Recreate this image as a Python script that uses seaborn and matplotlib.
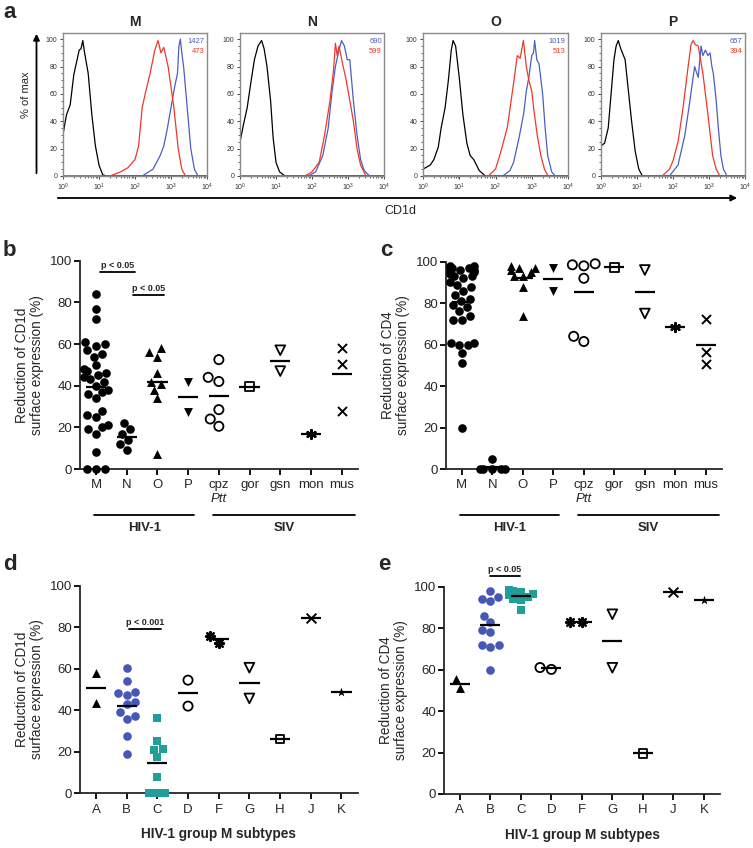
import numpy as np
import pandas as pd
import seaborn as sns
import matplotlib.pyplot as plt
from matplotlib.patches import FancyArrowPatch
from matplotlib.ticker import LogLocator, MultipleLocator, NullFormatter
from matplotlib.transforms import blended_transform_factory

# ---- panel a: CD1d histograms (x given as log10 fluorescence, y = % of max)
hist_titles = ['M', 'N', 'O', 'P']
mfi_blue = ['1427', '690', '1019', '657']
mfi_red = ['473', '599', '513', '394']

m_black_x = [0, 0.05, 0.1, 0.2, 0.3, 0.35, 0.45, 0.5, 0.55, 0.6, 0.7, 0.8, 0.9, 1.0, 1.1, 1.2, 4]
m_black_y = [30, 38, 45, 52, 74, 80, 92, 93, 99, 90, 75, 45, 22, 8, 1, 0, 0]
m_red_x = [0, 1.3, 1.6, 1.8, 2.0, 2.1, 2.2, 2.3, 2.42, 2.55, 2.64, 2.72, 2.8, 2.92, 3.0, 3.08, 3.2, 3.3, 3.4, 4]
m_red_y = [0, 0, 3, 6, 12, 22, 50, 62, 75, 92, 99, 90, 94, 80, 65, 50, 20, 5, 0, 0]
m_blue_x = [0, 2.2, 2.5, 2.7, 2.8, 2.9, 3.0, 3.1, 3.18, 3.22, 3.26, 3.3, 3.35, 3.45, 3.55, 3.65, 3.75, 4]
m_blue_y = [0, 0, 5, 15, 22, 35, 50, 65, 75, 95, 100, 90, 80, 50, 20, 5, 0, 0]

n_black_x = [0, 0.1, 0.2, 0.3, 0.4, 0.5, 0.6, 0.67, 0.75, 0.85, 0.92, 1.0, 1.1, 1.25, 4]
n_black_y = [25, 38, 50, 68, 85, 95, 99, 93, 80, 55, 28, 10, 3, 0, 0]
n_red_x = [0, 1.8, 2.0, 2.2, 2.35, 2.5, 2.6, 2.65, 2.7, 2.75, 2.85, 2.95, 3.05, 3.15, 3.25, 3.35, 3.5, 4]
n_red_y = [0, 0, 3, 10, 30, 55, 78, 97, 88, 95, 82, 70, 55, 40, 20, 8, 0, 0]
n_blue_x = [0, 1.9, 2.1, 2.3, 2.45, 2.55, 2.65, 2.75, 2.82, 2.9, 2.98, 3.05, 3.15, 3.25, 3.35, 3.45, 3.6, 4]
n_blue_y = [0, 0, 3, 15, 35, 60, 80, 92, 99, 95, 85, 85, 55, 30, 12, 4, 0, 0]

o_black_x = [0, 0.2, 0.3, 0.42, 0.5, 0.61, 0.7, 0.78, 0.83, 0.9, 1.0, 1.1, 1.21, 1.3, 1.4, 1.55, 1.72, 4]
o_black_y = [5, 8, 12, 21, 35, 50, 70, 92, 99, 95, 72, 45, 24, 15, 12, 4, 0, 0]
o_red_x = [0, 1.8, 2.0, 2.14, 2.33, 2.5, 2.6, 2.68, 2.77, 2.85, 2.92, 3.0, 3.06, 3.15, 3.25, 3.35, 3.45, 4]
o_red_y = [0, 0, 5, 17, 36, 68, 88, 86, 99, 80, 70, 62, 48, 30, 15, 5, 0, 0]
o_blue_x = [0, 2.2, 2.4, 2.5, 2.65, 2.78, 2.85, 2.92, 3.0, 3.05, 3.08, 3.14, 3.2, 3.3, 3.37, 3.44, 3.55, 3.65, 4]
o_blue_y = [0, 0, 4, 10, 28, 46, 62, 72, 88, 90, 99, 85, 82, 60, 35, 15, 3, 0, 0]

p_black_x = [0, 0.1, 0.2, 0.28, 0.36, 0.42, 0.48, 0.55, 0.67, 0.75, 0.85, 0.95, 1.05, 1.15, 4]
p_black_y = [22, 24, 35, 60, 85, 95, 99, 93, 85, 65, 40, 18, 5, 0, 0]
p_red_x = [0, 1.7, 1.9, 2.0, 2.14, 2.28, 2.42, 2.5, 2.56, 2.62, 2.7, 2.83, 2.97, 3.1, 3.2, 3.3, 4]
p_red_y = [0, 0, 5, 11, 25, 50, 80, 96, 99, 96, 95, 75, 45, 15, 5, 0, 0]
p_blue_x = [0, 1.9, 2.14, 2.33, 2.47, 2.6, 2.7, 2.78, 2.83, 2.9, 2.97, 3.03, 3.08, 3.12, 3.2, 3.26, 3.33, 3.4, 3.5, 4]
p_blue_y = [0, 0, 8, 30, 55, 80, 72, 95, 88, 92, 88, 90, 80, 75, 55, 35, 15, 5, 0, 0]

# ---- panels b/c: HIV-1 groups and SIVs
virus_groups = ['M', 'N', 'O', 'P', 'cpz', 'gor', 'gsn', 'mon', 'mus']
cd1d_M = [84, 77, 72, 61, 60, 59, 57, 55, 54, 50, 48, 47, 46, 45, 44, 43, 42, 40, 38, 37, 36, 34,
          28, 26, 25, 21, 20, 19, 17, 8, 0, 0, 0]
cd1d_N = [22, 19, 17, 14, 12, 9]
cd1d_O = [58, 56, 54, 46, 42, 41, 38, 34, 7]
cd1d_P = [42, 27.5]
cd1d_cpz = [52.5, 44, 42, 28.5, 24, 20.5]
cd1d_gor = [39.5]
cd1d_gsn = [57, 47]
cd1d_mon = [17]
cd1d_mus = [58, 50.5, 28]

cd4_M = [98, 98, 97, 97, 97, 96, 96, 95, 95, 94, 93, 93, 92, 90, 89, 88, 86, 84, 82, 81, 79, 78,
         76, 74, 72, 72, 61, 61, 60, 60, 56, 51, 20]
cd4_N = [5, 0, 0, 0, 0, 0]
cd4_O = [98, 97, 97, 96, 95, 93, 93, 88, 74]
cd4_P = [97, 86]
cd4_cpz = [99, 98.5, 98, 92, 64, 61.5]
cd4_gor = [97.3]
cd4_gsn = [96, 75]
cd4_mon = [68.3]
cd4_mus = [72.4, 56.6, 50.5]

# ---- panels d/e: HIV-1 group M subtypes
subtypes = ['A', 'B', 'C', 'D', 'F', 'G', 'H', 'J', 'K']
sub_cd1d_A = [58, 43.5]
sub_cd1d_B = [60.5, 54, 49, 48.5, 47.5, 44, 43, 39, 37, 36, 27.5, 19]
sub_cd1d_C = [36.5, 25, 21.5, 21, 17.5, 8, 0, 0, 0]
sub_cd1d_D = [54.5, 42]
sub_cd1d_F = [76, 72.5]
sub_cd1d_G = [60.5, 45.7]
sub_cd1d_H = [26.2]
sub_cd1d_J = [84.3]
sub_cd1d_K = [48.8]

sub_cd4_A = [55.3, 51.3]
sub_cd4_B = [98, 95, 94, 93, 86, 83, 79, 78, 72, 72, 71, 60]
sub_cd4_C = [98.5, 98, 97.5, 96.5, 96, 95, 94, 93.5, 89]
sub_cd4_D = [61, 60.1]
sub_cd4_F = [82.8, 82.8]
sub_cd4_G = [86.7, 60.9]
sub_cd4_H = [19.6]
sub_cd4_J = [97.6]
sub_cd4_K = [93.6]

RED = '#f0372c'
BLUE_H = '#4c5ec2'
BLUE = '#4658b6'
TEAL = '#1f9e9a'

# marker, face colour ('none' = open), size, line width
virus_marks = {'M': ('o', 'black', 6.2, 0), 'N': ('o', 'black', 6.2, 0),
               'O': ('^', 'black', 6.4, 0), 'P': ('v', 'black', 6.4, 0),
               'cpz': ('o', 'none', 6.6, 1.3), 'gor': ('s', 'none', 6.2, 1.3),
               'gsn': ('v', 'none', 7.0, 1.3), 'mon': ((6, 2, 0), 'black', 6.5, 1.6),
               'mus': ('x', 'black', 6.5, 1.4)}
subtype_marks = {'A': ('^', 'black', 6.4, 0), 'B': ('o', BLUE, 6.2, 0),
                 'C': ('s', TEAL, 5.6, 0), 'D': ('o', 'none', 6.6, 1.3),
                 'F': ((8, 2, 0), 'black', 6.5, 1.6), 'G': ('v', 'none', 7.0, 1.3),
                 'H': ('s', 'none', 6.2, 1.3), 'J': ('x', 'black', 7.0, 1.4),
                 'K': ('*', 'black', 7.0, 0)}

sns.set_style('ticks')
plt.rcParams['font.family'] = ['Liberation Sans', 'DejaVu Sans']
plt.rcParams['mathtext.fontset'] = 'custom'
plt.rcParams['mathtext.rm'] = 'Liberation Sans'

W, H = 753, 848
fig = plt.figure(figsize=(W / 100, H / 100), dpi=100)


def box(x0, y0, x1, y1):
    return [x0 / W, 1 - y1 / H, (x1 - x0) / W, (y1 - y0) / H]


def long_table(groups, series):
    rows = [(g, v) for g, vals in zip(groups, series) for v in vals]
    return pd.DataFrame(rows, columns=['group', 'value'])


# ---------------- panel a
hist_boxes = [box(63, 33, 207, 176), box(240, 33, 384, 176),
              box(423, 33, 568, 176), box(601, 33, 745, 176)]
hist_curves = [
    [(m_black_x, m_black_y, 'black'), (m_blue_x, m_blue_y, BLUE_H), (m_red_x, m_red_y, RED)],
    [(n_black_x, n_black_y, 'black'), (n_blue_x, n_blue_y, BLUE_H), (n_red_x, n_red_y, RED)],
    [(o_black_x, o_black_y, 'black'), (o_blue_x, o_blue_y, BLUE_H), (o_red_x, o_red_y, RED)],
    [(p_black_x, p_black_y, 'black'), (p_blue_x, p_blue_y, BLUE_H), (p_red_x, p_red_y, RED)],
]
for k, title in enumerate(hist_titles):
    ax = fig.add_axes(hist_boxes[k])
    for cx, cy, col in hist_curves[k]:
        sns.lineplot(x=10 ** np.array(cx, dtype=float), y=cy, ax=ax, color=col, lw=0.9,
                     estimator=None, sort=False)
    ax.set_xscale('log')
    ax.set_xlim(1, 1e4)
    ax.set_ylim(0, 104.5)
    ax.set_xticks([1, 10, 100, 1000, 10000])
    ax.set_xticklabels([r'$10^{0}$', r'$10^{1}$', r'$10^{2}$', r'$10^{3}$', r'$10^{4}$'])
    ax.xaxis.set_minor_locator(LogLocator(base=10, subs=np.arange(2, 10)))
    ax.xaxis.set_minor_formatter(NullFormatter())
    ax.set_yticks(range(0, 101, 20))
    ax.yaxis.set_minor_locator(MultipleLocator(5))
    ax.tick_params(labelsize=5, length=2.5, width=0.6, pad=1.5, labelcolor='#333333')
    ax.tick_params(which='minor', length=1.3, width=0.5)
    for s in ax.spines.values():
        s.set_color('#8a8a8a')
        s.set_linewidth(1.0)
    ax.set_xlabel('')
    ax.set_ylabel('')
    ax.set_title(title, fontweight='bold', fontsize=10, pad=5)
    ax.text(0.985, 0.965, mfi_blue[k], transform=ax.transAxes, ha='right', va='top',
            color=BLUE_H, fontsize=5.5)
    ax.text(0.985, 0.895, mfi_red[k], transform=ax.transAxes, ha='right', va='top',
            color=RED, fontsize=5.5)

fig.add_artist(FancyArrowPatch((36.5 / W, 1 - 176 / H), (36.5 / W, 1 - 31 / H),
                               transform=fig.transFigure, arrowstyle='-|>', mutation_scale=9,
                               lw=1.3, color='black'))
fig.add_artist(FancyArrowPatch((55 / W, 1 - 198 / H), (740 / W, 1 - 198 / H),
                               transform=fig.transFigure, arrowstyle='-|>', mutation_scale=9,
                               lw=1.3, color='black'))
fig.text(26 / W, 1 - 95 / H, '% of max', rotation=90, ha='center', va='center', fontsize=8)
fig.text(400 / W, 1 - 211 / H, 'CD1d', ha='center', va='center', fontsize=9)


# ---------------- dot plots
def dot_panel(ax, table, order, marks, ylabel):
    for g in order:
        marker, face, size, lw = marks[g]
        col = 'black' if face == 'none' else face
        sns.swarmplot(data=table[table.group == g], x='group', y='value', order=order, ax=ax,
                      marker=marker, color=col, facecolors=face, edgecolor=col,
                      linewidth=lw, size=size, warn_thresh=1, zorder=3)
    # let points on the 0 line spill over the axis (empty collections stay clipped)
    for coll in ax.collections:
        coll.set_clip_on(len(coll.get_offsets()) == 0)
    means = table.groupby('group')['value'].mean()
    for i, g in enumerate(order):
        ax.hlines(means[g], i - 0.33, i + 0.33, colors='black', lw=1.6, zorder=5)
    ax.set_xlim(-0.52, len(order) - 0.47)
    ax.set_ylim(0, 100)
    ax.set_yticks(range(0, 101, 20))
    sns.despine(ax=ax)
    for s in ['left', 'bottom']:
        ax.spines[s].set_linewidth(1.3)
    ax.tick_params(axis='both', width=1.3, length=4.5, labelsize=9.5, color='black')
    ax.tick_params(axis='y', pad=1)
    ax.tick_params(axis='x', pad=3)
    ax.set_xlabel('')
    ax.set_ylabel(ylabel, fontsize=9.8, linespacing=1.1)
    ax.yaxis.set_label_coords(-0.13, 0.5)


def p_bar(ax, x0, x1, y, label):
    ax.plot([x0, x1], [y, y], color='black', lw=1.3, clip_on=False)
    ax.text((x0 + x1) / 2, y + 1.0, label, ha='center', va='bottom', fontsize=6.5,
            fontweight='bold')


def group_bars(ax):
    tr = blended_transform_factory(ax.transData, ax.transAxes)
    ax.text(4, -0.145, 'Ptt', transform=tr, ha='center', va='center', fontsize=9.5,
            style='italic')
    for (x0, x1, name) in [(-0.05, 3.2, 'HIV-1'), (3.82, 8.42, 'SIV')]:
        ax.plot([x0, x1], [-0.221, -0.221], transform=tr, color='black', lw=1.3, clip_on=False)
        ax.text((x0 + x1) / 2, -0.283, name, transform=tr, ha='center', va='center',
                fontsize=9.5, fontweight='bold')


cd1d_table = long_table(virus_groups, [cd1d_M, cd1d_N, cd1d_O, cd1d_P, cd1d_cpz, cd1d_gor,
                                       cd1d_gsn, cd1d_mon, cd1d_mus])
cd4_table = long_table(virus_groups, [cd4_M, cd4_N, cd4_O, cd4_P, cd4_cpz, cd4_gor,
                                      cd4_gsn, cd4_mon, cd4_mus])
sub_cd1d_table = long_table(subtypes, [sub_cd1d_A, sub_cd1d_B, sub_cd1d_C, sub_cd1d_D, sub_cd1d_F,
                                       sub_cd1d_G, sub_cd1d_H, sub_cd1d_J, sub_cd1d_K])
sub_cd4_table = long_table(subtypes, [sub_cd4_A, sub_cd4_B, sub_cd4_C, sub_cd4_D, sub_cd4_F,
                                      sub_cd4_G, sub_cd4_H, sub_cd4_J, sub_cd4_K])

ax_b = fig.add_axes(box(80, 260.7, 358, 469))
dot_panel(ax_b, cd1d_table, virus_groups, virus_marks, 'Reduction of CD1d\nsurface expression (%)')
p_bar(ax_b, 0.13, 1.27, 94.7, 'p < 0.05')
p_bar(ax_b, 1.2, 2.22, 83.5, 'p < 0.05')
group_bars(ax_b)

ax_c = fig.add_axes(box(446, 261.7, 722, 469))
dot_panel(ax_c, cd4_table, virus_groups, virus_marks, 'Reduction of CD4\nsurface expression (%)')
group_bars(ax_c)

ax_d = fig.add_axes(box(80, 585.7, 357.7, 793.3))
dot_panel(ax_d, sub_cd1d_table, subtypes, subtype_marks, 'Reduction of CD1d\nsurface expression (%)')
p_bar(ax_d, 1.09, 2.11, 79, 'p < 0.001')

ax_e = fig.add_axes(box(444, 586.7, 720, 794))
dot_panel(ax_e, sub_cd4_table, subtypes, subtype_marks, 'Reduction of CD4\nsurface expression (%)')
p_bar(ax_e, 0.99, 1.97, 105, 'p < 0.05')

for ax in (ax_d, ax_e):
    ax.text(0.5, -0.196, 'HIV-1 group M subtypes', transform=ax.transAxes, ha='center',
            va='center', fontsize=9.8, fontweight='bold')

# panel letters
for px, py, letter in [(3, 18, 'a'), (3, 256.5, 'b'), (380, 256.5, 'c'),
                       (3, 570, 'd'), (378, 570, 'e')]:
    fig.text(px / W, 1 - py / H, letter, fontsize=16, fontweight='bold', ha='left', va='baseline')

fig.savefig('out.png', dpi=100)
